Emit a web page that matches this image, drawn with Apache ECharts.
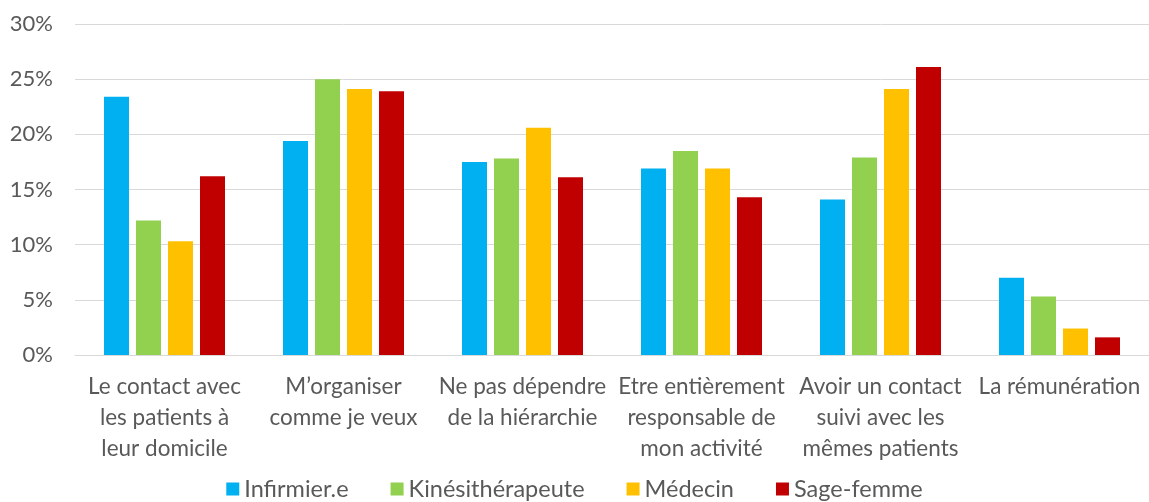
<!DOCTYPE html>
<html>
<head>
<meta charset="utf-8">
<script src="https://cdn.jsdelivr.net/npm/echarts@6/dist/echarts.min.js"></script>
<style>
  html, body { margin: 0; padding: 0; background: #fff; }
  #chart { width: 1149px; height: 502px; }
</style>
</head>
<body>
<div id="chart"></div>
<script>
var categories = [
  'Le contact avec\nles patients à\nleur domicile',
  'M’organiser\ncomme je veux',
  'Ne pas dépendre\nde la hiérarchie',
  'Etre entièrement\nresponsable de\nmon activité',
  'Avoir un contact\nsuivi avec les\nmêmes patients',
  'La rémunération'
]
var infirmier = [23.4, 19.4, 17.5, 16.9, 14.1, 7.0]
var kine = [12.2, 25.0, 17.8, 18.5, 17.9, 5.3]
var medecin = [10.3, 24.1, 20.6, 16.9, 24.1, 2.4]
var sageFemme = [16.2, 23.9, 16.1, 14.3, 26.1, 1.6]
var seriesNames = ['Infirmier.e', 'Kinésithérapeute', 'Médecin', 'Sage-femme']
var colors = ['#00B0F0', '#92D050', '#FFC000', '#C00000']

var font = 'Lato, "Open Sans", sans-serif'
var myChart = echarts.init(document.getElementById('chart'))

function makeSeries (name, data, i) {
  return {
    name: name,
    type: 'bar',
    data: data,
    barWidth: 25,
    barGap: '28%',
    itemStyle: { color: colors[i] }
  }
}

var option = {
  animation: false,
  grid: { left: 75, right: 0, top: 24, bottom: 147 },
  legend: {
    bottom: -4,
    left: 'center',
    itemWidth: 13,
    itemHeight: 13,
    itemGap: 42,
    icon: 'rect',
    textStyle: { fontFamily: font, fontSize: 23.5, color: '#595959' },
    data: seriesNames
  },
  xAxis: {
    type: 'category',
    data: categories,
    axisLine: { lineStyle: { color: '#D9D9D9' } },
    axisTick: { show: false },
    axisLabel: {
      interval: 0,
      margin: 16,
      fontFamily: font,
      fontSize: 22.5,
      lineHeight: 31,
      color: '#595959'
    }
  },
  yAxis: {
    type: 'value',
    min: 0,
    max: 30,
    interval: 5,
    axisLine: { show: false },
    axisTick: { show: false },
    splitLine: { lineStyle: { color: '#D9D9D9' } },
    axisLabel: {
      formatter: '{value}%',
      margin: 22,
      fontFamily: font,
      fontSize: 22,
      color: '#595959'
    }
  },
  series: [
    makeSeries(seriesNames[0], infirmier, 0),
    makeSeries(seriesNames[1], kine, 1),
    makeSeries(seriesNames[2], medecin, 2),
    makeSeries(seriesNames[3], sageFemme, 3)
  ]
}
myChart.setOption(option)
</script>
</body>
</html>
